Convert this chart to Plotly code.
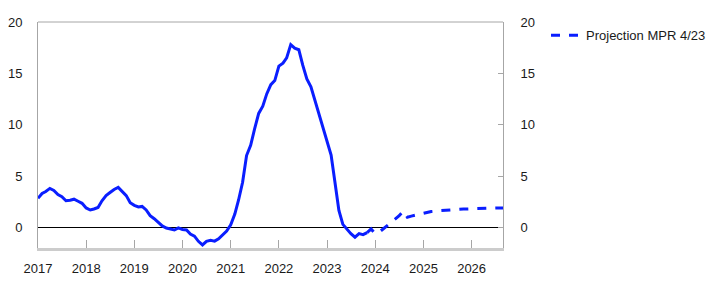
import pandas as pd
import plotly.graph_objects as go

# Monthly values, actual (Jan 2017 - Nov 2023)
actual_values = [
    2.85, 3.3, 3.5, 3.8, 3.6, 3.2, 3.0, 2.6, 2.65, 2.75, 2.55, 2.35,
    1.9, 1.7, 1.8, 1.95, 2.6, 3.1, 3.4, 3.7, 3.9, 3.5, 3.1, 2.4,
    2.15, 2.0, 2.05, 1.7, 1.15, 0.85, 0.5, 0.15, -0.05, -0.15, -0.25, -0.05,
    -0.2, -0.25, -0.65, -0.85, -1.35, -1.7, -1.35, -1.25, -1.33, -1.1, -0.75, -0.35,
    0.25, 1.3, 2.65, 4.4, 7.0, 8.0, 9.6, 11.1, 11.8, 13.0, 13.9, 14.3,
    15.7, 16.0, 16.5, 17.8, 17.45, 17.3, 15.8, 14.45, 13.7, 12.4, 11.2, 9.9,
    8.6, 7.05, 4.5, 1.65, 0.3, -0.2, -0.6, -0.95, -0.6, -0.7, -0.5,
]
actual_start = "2017-01-01"

# Projection MPR 4/23 (Nov 2023 - Sep 2026)
projection_values = [
    -0.5, -0.15, -0.6, -0.45, -0.15, 0.2, 0.5, 0.85, 1.15, 1.6,
    1.0, 1.1, 1.2, 1.3, 1.4, 1.5, 1.55, 1.6, 1.64, 1.68, 1.71, 1.73,
    1.75, 1.77, 1.79, 1.81, 1.83, 1.85, 1.86, 1.87, 1.88, 1.89, 1.9, 1.9, 1.9,
]
projection_start = "2023-11-01"
projection_name = "Projection MPR 4/23"

y_ticks = [0, 5, 10, 15, 20]

actual_dates = pd.date_range(actual_start, periods=len(actual_values), freq="MS")
projection_dates = pd.date_range(projection_start, periods=len(projection_values), freq="MS")

BLUE = "#0a1eff"
GRAY = "#a6a6a6"
FONT = "Liberation Sans, Arial, sans-serif"

fig = go.Figure()
fig.add_trace(go.Scatter(
    x=actual_dates, y=actual_values, mode="lines",
    line=dict(color=BLUE, width=3), showlegend=False, name="Actual",
))
fig.add_trace(go.Scatter(
    x=projection_dates, y=projection_values, mode="lines",
    line=dict(color=BLUE, width=3, dash="dash"), name=projection_name,
))
# invisible trace to activate right axis
fig.add_trace(go.Scatter(
    x=[actual_dates[0]], y=[0], yaxis="y2", mode="lines",
    line=dict(color="rgba(0,0,0,0)"), showlegend=False, hoverinfo="skip",
))

fig.update_layout(
    template="none",
    width=722, height=284,
    margin=dict(l=38, r=219, t=22, b=36, autoexpand=False),
    paper_bgcolor="white", plot_bgcolor="white",
    font=dict(family=FONT, size=13, color="#1a1a1a"),
    xaxis=dict(
        type="date", range=["2017-01-01", "2026-08-27"],
        tick0="2017-01-01", dtick="M12", tickformat="%Y",
        ticks="inside", ticklen=8, tickcolor=GRAY, tickwidth=1,
        showline=True, linecolor="#cccccc", linewidth=3,
        showgrid=False, zeroline=False, ticklabelstandoff=6,
        automargin=False,
    ),
    yaxis=dict(
        range=[-2, 20], tickvals=y_ticks, showgrid=False,
        showline=True, linecolor=GRAY, linewidth=1, ticks="",
        zeroline=True, zerolinecolor="black", zerolinewidth=1,
        ticklabelstandoff=12, automargin=False,
    ),
    yaxis2=dict(
        range=[-2, 20], tickvals=y_ticks, overlaying="y", side="right",
        showgrid=False, showline=True, linecolor=GRAY, linewidth=1,
        ticks="inside", ticklen=5, tickcolor=GRAY, zeroline=False,
        ticklabelstandoff=14, automargin=False,
    ),
    legend=dict(
        x=1.0925, y=1.007, xanchor="left", yanchor="top",
        bgcolor="rgba(0,0,0,0)", font=dict(size=13),
    ),
    shapes=[dict(
        type="line", xref="paper", yref="paper", x0=0, x1=1, y0=1, y1=1,
        line=dict(color=GRAY, width=1),
    )],
)

fig.write_html("out.html")
